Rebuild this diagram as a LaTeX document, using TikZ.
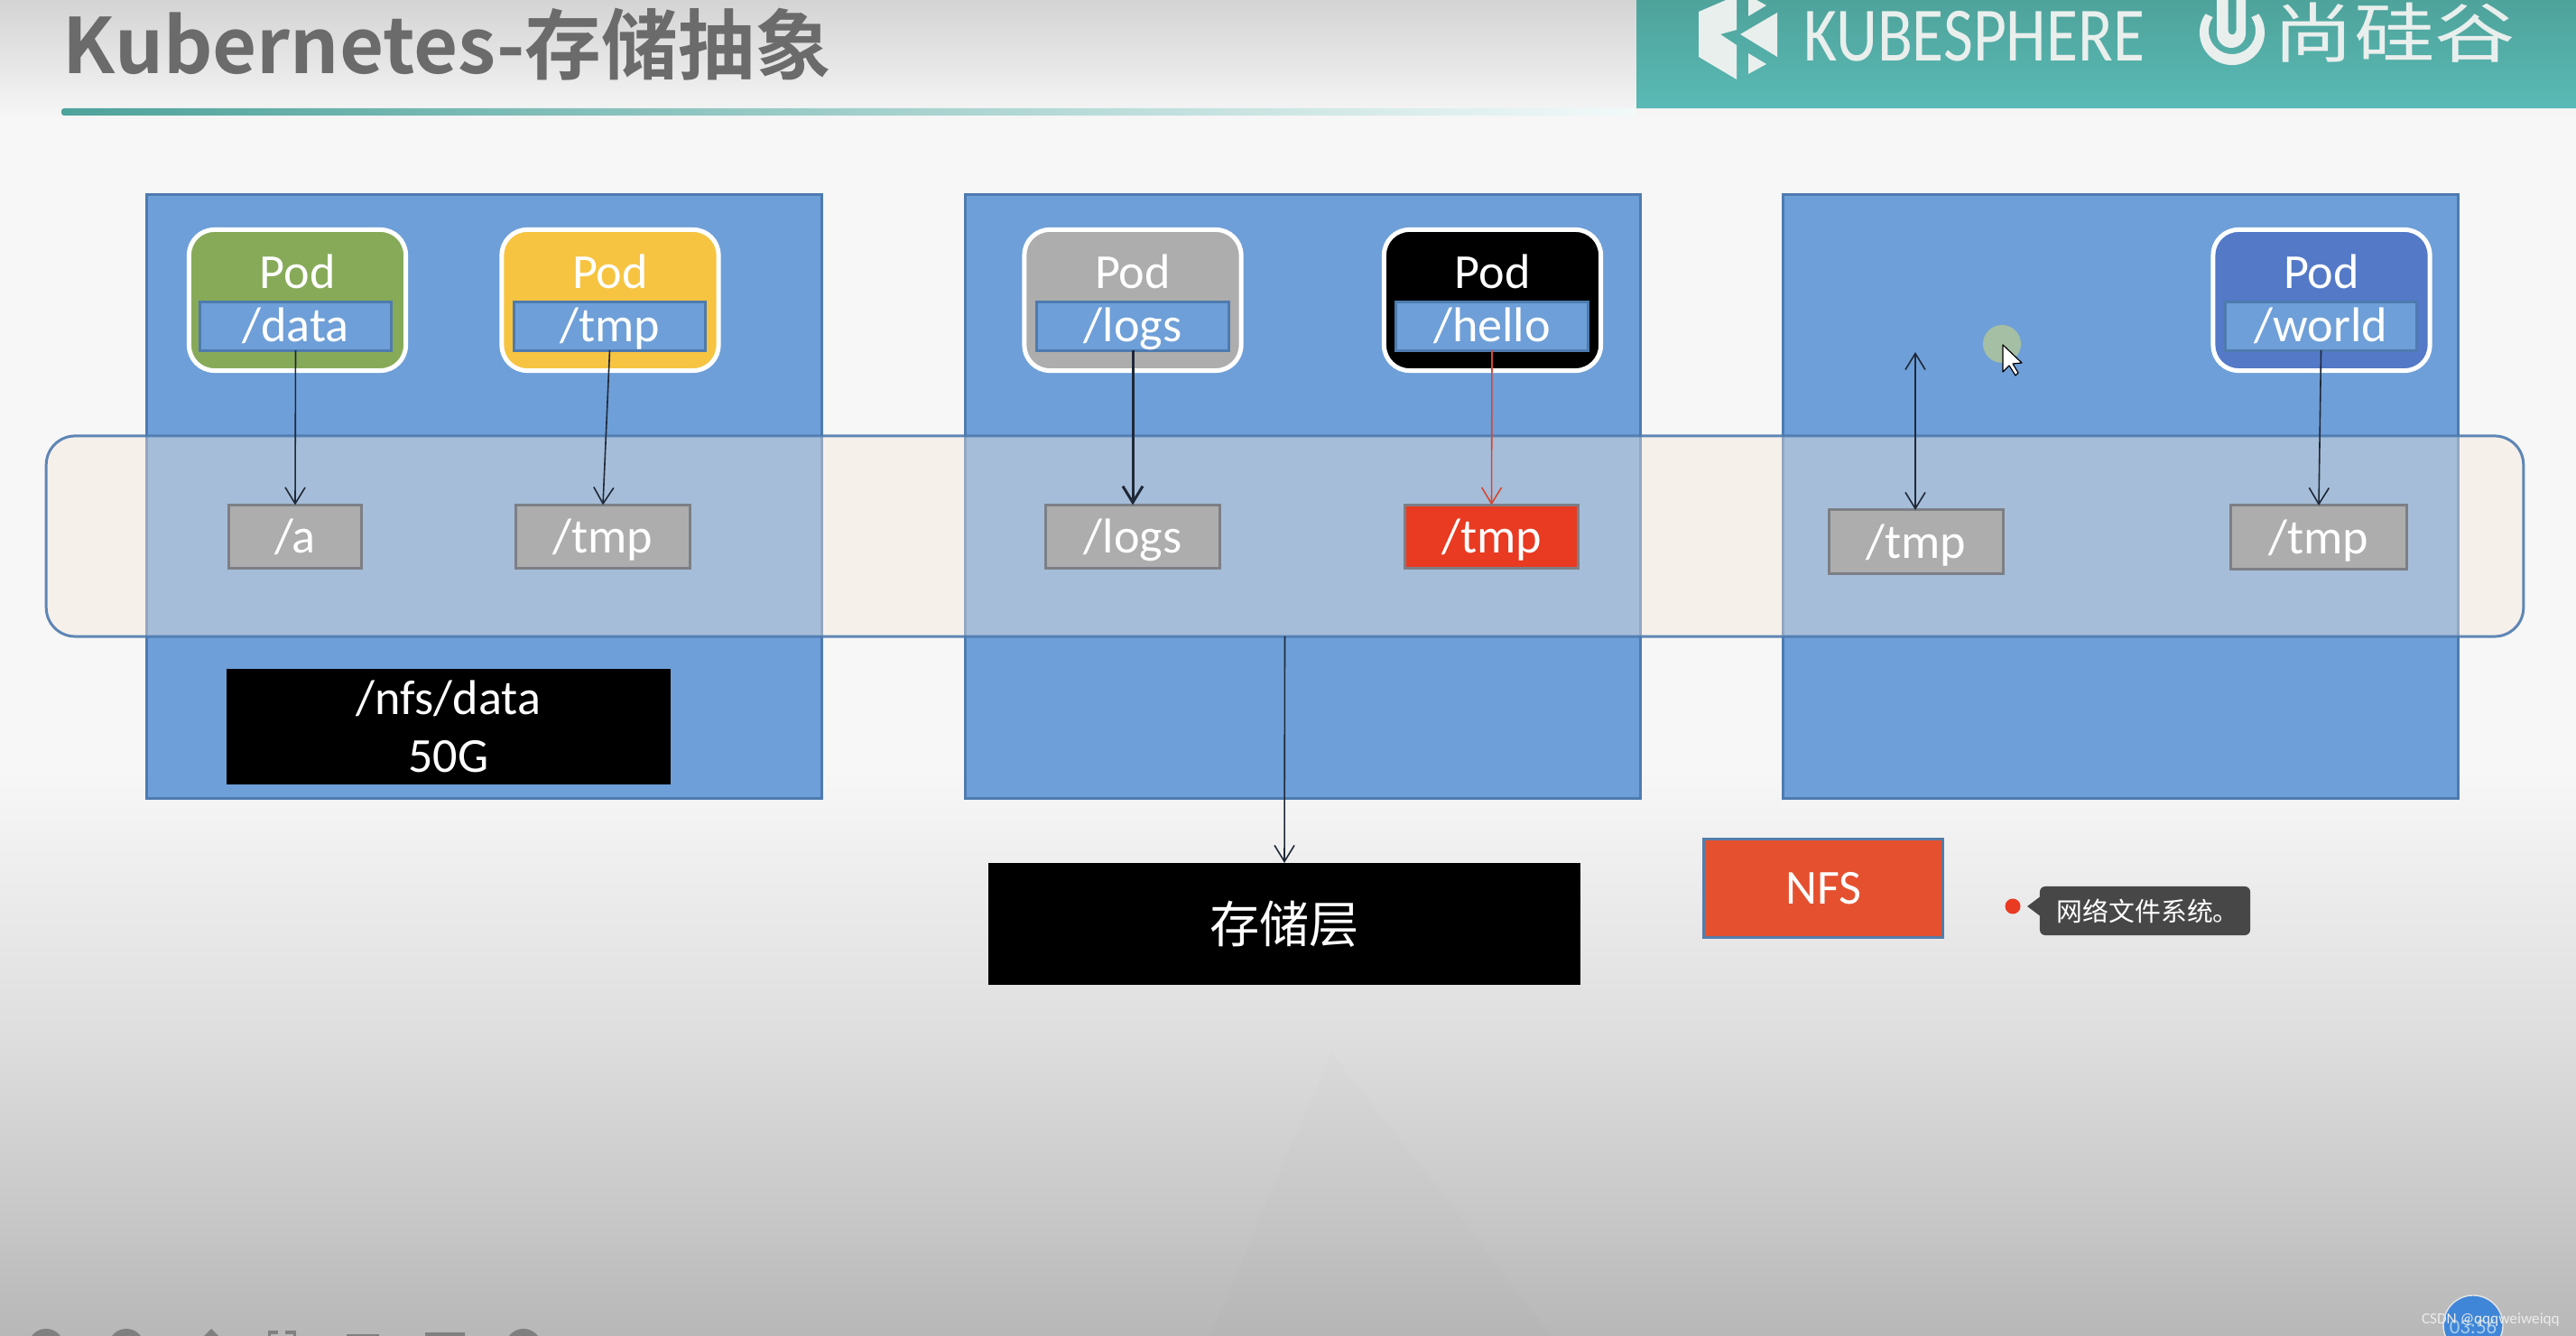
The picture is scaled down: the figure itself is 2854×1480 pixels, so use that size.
\documentclass[tikz,border=0pt]{standalone}
\usepackage{fontspec}
\setmainfont{Carlito}
\newfontfamily\cjk[BoldFont={Noto Sans CJK SC Bold}]{Noto Sans CJK SC}
\usetikzlibrary{arrows.meta}
\definecolor{nodeblue}{HTML}{6E9FD8}
\definecolor{nodeedge}{HTML}{4E7BAF}
\definecolor{bandfill}{HTML}{F5E8DA}
\definecolor{boxgray}{HTML}{ADADAD}
\definecolor{boxedge}{HTML}{7D7F86}
\definecolor{podgreen}{HTML}{87AA59}
\definecolor{podyellow}{HTML}{F6C441}
\definecolor{podblue}{HTML}{5379C7}
\definecolor{mntred}{HTML}{E93A22}
\definecolor{nfsred}{HTML}{E5512F}
\definecolor{tealtop}{HTML}{4EA39B}
\definecolor{tealbot}{HTML}{5ABAB5}
\definecolor{logowhite}{HTML}{E9EFED}
\definecolor{titlegray}{HTML}{6B6B6B}
\definecolor{arrowdark}{HTML}{1F2838}
\definecolor{cursorgreen}{HTML}{A5BFA4}
\definecolor{clockblue}{HTML}{3F86D8}
\definecolor{clocktext}{HTML}{A8CDE8}
\begin{document}
\begin{tikzpicture}[x=.01cm,y=-.01cm,
    every node/.style={inner sep=0pt,outer sep=0pt,text=white},
    slidetext/.style={font=\fontsize{15.4}{18}\selectfont,align=center},
    nodebox/.style={draw=nodeedge,fill=nodeblue,line width=.03cm,minimum width=7.48cm,minimum height=6.69cm},
    podbox/.style={draw=white,line width=.05cm,rounded corners=.28cm,minimum width=2.4cm,minimum height=1.56cm,
      label={[slidetext,yshift=.32cm]center:Pod}},
    pathbox/.style={slidetext,draw=nodeedge,fill=nodeblue,line width=.03cm,minimum width=2.12cm,minimum height=.53cm,
      text height=.39cm,text depth=.04cm},
    mntbox/.style={slidetext,draw=boxedge,fill=boxgray,line width=.03cm,minimum height=.7cm,
      text height=.4cm,text depth=.03cm},
    mntline/.style={draw=arrowdark,line width=.016cm,-{Straight Barb[length=.18cm,width=.22cm]}}]

    % slide background
    \clip (0,0) rectangle (2854,1480);
    \fill[white!97!black] (0,0) rectangle (2854,1480);
    \shade[top color=black!17,bottom color=white!97!black] (0,0) rectangle (2854,135);
    \shade[top color=white!97!black,bottom color=black!13] (0,850) rectangle (2854,1150);
    \shade[top color=black!13,bottom color=black!28] (0,1150) rectangle (2854,1480);
    \fill[black,opacity=.008] (1475,1165) -- (1720,1480) -- (1340,1480) -- cycle;

    % header
    \shade[top color=tealtop,bottom color=tealbot] (1813,0) rectangle (2854,120);
    \shade[left color=tealtop,middle color=tealbot!85!white,right color=tealbot!8!white,rounded corners=.03cm]
      (68,120) rectangle (1813,128);
    \node[anchor=base west,text=titlegray,font=\cjk\bfseries\fontsize{24.1}{28}\selectfont] (title) at (70,82)
      {Kubernetes-存储抽象};
    \fill[logowhite] (1882,13) -- (1924,-5) -- (1924,33) -- (1906,38) -- (1924,50) -- (1924,88) -- (1882,63) -- cycle;
    \fill[logowhite] (1937,-5) -- (1957,6) -- (1937,18) -- cycle;
    \fill[logowhite] (1969,14) -- (1969,63) -- (1928,38) -- cycle;
    \fill[logowhite] (1937,59) -- (1957,71) -- (1937,82) -- cycle;
    \node[text=logowhite,xscale=.84,transform shape,font=\fontsize{24.2}{28}\selectfont] (kubesphere) at (2187,40) {KUBESPHERE};
    \fill[logowhite] (2443.5,15.4) arc[start angle=145,end angle=395,radius=.36cm]
      -- (2494.3,19.1) arc[start angle=35,end angle=-215,radius=.26cm] -- cycle;
    \fill[logowhite,even odd rule] (2456,-5) -- (2456,37) arc[start angle=180,end angle=360,radius=.16cm] -- (2488,-5) -- cycle
      (2468.5,-5) -- (2468.5,34) arc[start angle=180,end angle=360,radius=.045cm] -- (2477.5,-5) -- cycle;
    \node[text=logowhite,xscale=1.24,transform shape,font=\cjk\fontsize{20.5}{24}\selectfont] (school) at (2653,36) {尚硅谷};

    % the three cluster nodes
    \node[nodebox] (node-1) at (536.5,550) {};
    \node[nodebox] (node-2) at (1443.5,550) {};
    \node[nodebox] (node-3) at (2349.5,550) {};

    % pods
    \node[podbox,fill=podgreen] (pod-data) at (329.5,332.5) {};
    \node[pathbox] (path-data) at (327.5,361.5) {/data};
    \node[podbox,fill=podyellow] (pod-tmp) at (676,332.5) {};
    \node[pathbox] (path-tmp) at (675.5,361.5) {/tmp};
    \node[podbox,fill=boxgray] (pod-logs) at (1255,332.5) {};
    \node[pathbox] (path-logs) at (1255,361.5) {/logs};
    \node[podbox,fill=black] (pod-hello) at (1653.5,332.5) {};
    \node[pathbox] (path-hello) at (1653,361.5) {/hello};
    \node[podbox,fill=podblue] (pod-world) at (2572,332.5) {};
    \node[pathbox] (path-world) at (2571.5,361.5) {/world};

    % shared band across the nodes
    \node[fill=bandfill,fill opacity=.41,draw=nodeedge,draw opacity=.9,line width=.03cm,rounded corners=.32cm,
      minimum width=27.43cm,minimum height=2.22cm] (band) at (1423.5,594) {};

    % mounted directories
    \node[mntbox,minimum width=1.47cm] (mnt-a) at (327,594.5) {/a};
    \node[mntbox,minimum width=1.93cm] (mnt-tmp) at (668,594.5) {/tmp};
    \node[mntbox,minimum width=1.93cm] (mnt-logs) at (1255,594.5) {/logs};
    \node[mntbox,minimum width=1.92cm,fill=mntred] (mnt-red) at (1652.5,594.5) {/tmp};
    \node[mntbox,minimum width=1.93cm] (mnt-free) at (2123,600) {/tmp};
    \node[mntbox,minimum width=1.95cm] (mnt-world) at (2569,595) {/tmp};
    \coordinate (free-top) at (2122,390);

    \draw[mntline] (path-data.south) -- (mnt-a.north);
    \draw[mntline] (path-tmp.south) -- (mnt-tmp.north);
    \draw[mntline,line width=.03cm] (path-logs.south) -- (mnt-logs.north);
    \draw[mntline,draw=mntred!80!gray] (path-hello.south) -- (mnt-red.north);
    \draw[mntline,{Straight Barb[length=.18cm,width=.22cm]}-{Straight Barb[length=.18cm,width=.22cm]}]
      (free-top) -- (free-top |- mnt-free.north);
    \draw[mntline] (path-world.south) -- (mnt-world.north);

    % storage below the band
    \node[slidetext,fill=black,minimum width=4.92cm,minimum height=1.28cm] (nfs-data) at (497,805) {/nfs/data\\50G};
    \node[fill=black,minimum width=6.56cm,minimum height=1.35cm,font=\cjk\fontsize{15.7}{18}\selectfont] (storage) at (1423,1023.5) {存储层};
    \draw[mntline] (band.south) -- (storage.north);
    \node[slidetext,draw=nodeedge!85!gray,fill=nfsred,line width=.035cm,minimum width=2.65cm,minimum height=1.09cm] (nfs) at (2020,984) {NFS};

    % player marks
    \node[circle,fill=mntred,minimum width=.17cm] (mark) at (2230,1004) {};
    \fill[black!72] (2246,1004) -- (2262,992) -- (2262,1016) -- cycle;
    \node[fill=black!72,rounded corners=.06cm,minimum width=2.33cm,minimum height=.54cm,font=\cjk\fontsize{8.2}{10}\selectfont,
      text width=1.95cm,align=left] (tooltip) at (2376.5,1009) {网络文件系统。};
    \fill[cursorgreen] (2218,381) circle[radius=.21cm];
    \draw[fill=white,draw=black,line width=.012cm,line join=round] (2219,382) -- (2219,412) -- (2226,405) -- (2233,416)
      -- (2236,413) -- (2230,403) -- (2240,402) -- cycle;

    % toolbar
    \fill[black!50] (51,1492) circle[radius=.2cm] (140,1492) circle[radius=.2cm] (580,1492) circle[radius=.2cm];
    \fill[black!50] (234,1472) -- (262,1500) -- (206,1500) -- cycle;
    \draw[black!50,line width=.03cm] (298,1490) -- (298,1476) -- (308,1476) (316,1476) -- (326,1476) -- (326,1490);
    \fill[black!50] (384,1478) rectangle (420,1500) (471,1476) rectangle (515,1500);

    % clock and watermark
    \fill[clockblue,draw=white!80!gray] (2740,1468) circle[radius=.33cm];
    \node[text=clocktext,font=\fontsize{6.5}{8}\selectfont] (clock) at (2740,1470) {03:56};
    \node[anchor=west,text=white!85!gray,font=\fontsize{4.9}{6}\selectfont] (mark-csdn) at (2683,1462) {CSDN @qqqweiweiqq};
\end{tikzpicture}
\end{document}
